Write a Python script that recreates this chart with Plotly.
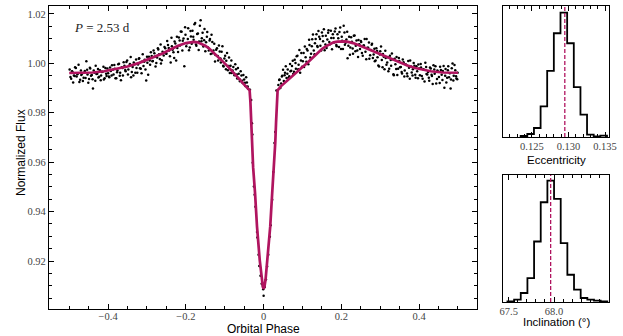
import plotly.graph_objects as go

# ---- light curve data (phase-folded), two interleaved observing sets ----
phase_a = [
    -0.499, -0.495, -0.492, -0.488, -0.485, -0.481, -0.478, -0.474, -0.470, -0.467,
    -0.463, -0.460, -0.456, -0.453, -0.449, -0.446, -0.442, -0.439, -0.435, -0.432,
    -0.428, -0.425, -0.421, -0.418, -0.414, -0.411, -0.407, -0.404, -0.400, -0.397,
    -0.393, -0.390, -0.386, -0.383, -0.379, -0.376, -0.372, -0.369, -0.365, -0.362,
    -0.358, -0.355, -0.351, -0.348, -0.344, -0.341, -0.337, -0.334, -0.330, -0.327,
    -0.323, -0.320, -0.316, -0.313, -0.309, -0.306, -0.302, -0.299, -0.295, -0.292,
    -0.288, -0.285, -0.281, -0.278, -0.274, -0.271, -0.267, -0.264, -0.260, -0.257,
    -0.253, -0.250, -0.246, -0.243, -0.239, -0.236, -0.232, -0.229, -0.225, -0.222,
    -0.218, -0.215, -0.211, -0.208, -0.204, -0.201, -0.197, -0.194, -0.190, -0.187,
    -0.183, -0.180, -0.176, -0.173, -0.169, -0.166, -0.162, -0.159, -0.155, -0.152,
    -0.148, -0.145, -0.141, -0.138, -0.134, -0.131, -0.127, -0.124, -0.120, -0.117,
    -0.113, -0.110, -0.106, -0.103, -0.099, -0.096, -0.092, -0.089, -0.085, -0.082,
    -0.078, -0.075, -0.071, -0.068, -0.064, -0.061, -0.057, -0.054, -0.050, -0.047,
    -0.043, -0.040,
    -0.035, -0.032, -0.030, -0.029, -0.028, -0.025, -0.023, -0.021, -0.017, -0.016,
    -0.013, -0.011, -0.008, -0.005, -0.002, -0.001, 0.000, 0.003, 0.006, 0.009,
    0.012, 0.016, 0.018, 0.022, 0.025, 0.028, 0.030, 0.033,
    0.038, 0.041, 0.045, 0.048, 0.052, 0.055, 0.059, 0.062, 0.066, 0.069,
    0.073, 0.076, 0.080, 0.083, 0.087, 0.090, 0.094, 0.097, 0.101, 0.104,
    0.108, 0.111, 0.115, 0.118, 0.122, 0.125, 0.129, 0.132, 0.136, 0.139,
    0.143, 0.146, 0.150, 0.153, 0.157, 0.160, 0.164, 0.167, 0.171, 0.174,
    0.178, 0.181, 0.185, 0.188, 0.192, 0.195, 0.199, 0.202, 0.206, 0.209,
    0.213, 0.216, 0.220, 0.223, 0.227, 0.230, 0.234, 0.237, 0.241, 0.244,
    0.248, 0.251, 0.255, 0.258, 0.262, 0.265, 0.269, 0.272, 0.276, 0.279,
    0.283, 0.286, 0.290, 0.293, 0.297, 0.300, 0.304, 0.307, 0.311, 0.314,
    0.318, 0.321, 0.325, 0.328, 0.332, 0.335, 0.339, 0.342, 0.346, 0.349,
    0.353, 0.356, 0.360, 0.363, 0.367, 0.370, 0.374, 0.377, 0.381, 0.384,
    0.388, 0.391, 0.395, 0.398, 0.402, 0.405, 0.409, 0.412, 0.416, 0.419,
    0.423, 0.426, 0.430, 0.433, 0.437, 0.440, 0.444, 0.447, 0.451, 0.454,
    0.458, 0.461, 0.465, 0.468, 0.472, 0.475, 0.479, 0.482, 0.486, 0.489,
    0.493, 0.496, 0.499,
]
flux_a = [
    0.9975, 0.9938, 0.9966, 0.9951, 0.9984, 0.9947, 0.9960, 0.9925, 0.9971, 0.9958,
    0.9942, 0.9969, 1.0008, 0.9955, 0.9937, 0.9979, 0.9953, 0.9898, 0.9962, 0.9990,
    0.9958, 0.9943, 0.9972, 0.9951, 0.9966, 0.9935, 0.9981, 0.9949, 0.9960, 0.9944,
    0.9969, 0.9992, 0.9955, 0.9978, 0.9940, 0.9971, 0.9998, 0.9962, 0.9984, 0.9951,
    0.9990, 0.9968, 1.0012, 0.9975, 0.9997, 0.9944, 0.9985, 1.0003, 0.9962, 0.9981,
    0.9995, 1.0021, 0.9978, 1.0006, 0.9989, 1.0015, 0.9931, 1.0002, 1.0027, 0.9994,
    1.0030, 1.0009, 1.0041, 0.9987, 1.0024, 1.0056, 1.0018, 0.9999, 1.0047, 1.0032,
    1.0061, 1.0039, 1.0074, 1.0052, 1.0003, 1.0069, 1.0045, 1.0088, 1.0011, 1.0062,
    1.0105, 1.0072, 1.0128, 1.0091, 0.9988, 1.0116, 1.0081, 1.0142, 1.0064, 1.0109,
    1.0132, 1.0095, 1.0163, 1.0071, 1.0121, 1.0088, 1.0174, 1.0102, 1.0068, 1.0139,
    1.0085, 1.0127, 1.0052, 1.0098, 1.0116, 1.0041, 1.0079, 1.0034, 1.0061, 1.0012,
    1.0048, 1.0003, 1.0069, 0.9987, 1.0031, 1.0010, 0.9972, 1.0024, 0.9990, 0.9961,
    0.9985, 0.9952, 0.9976, 0.9939, 0.9958, 0.9928, 0.9951, 0.9920, 0.9935, 0.9908,
    0.9922, 0.9897,
    0.9893, 0.9852, 0.9758, 0.9712, 0.9598, 0.9502, 0.9468, 0.9420, 0.9318, 0.9295,
    0.9225, 0.9180, 0.9140, 0.9108, 0.9100, 0.9086, 0.9060, 0.9095, 0.9125, 0.9178,
    0.9225, 0.9298, 0.9345, 0.9448, 0.9560, 0.9678, 0.9722, 0.9890,
    0.9912, 0.9935, 0.9918, 0.9950, 0.9929, 0.9962, 0.9941, 0.9975, 0.9948, 0.9968,
    0.9989, 0.9957, 1.0015, 0.9978, 1.0031, 0.9994, 0.9962, 1.0042, 1.0008, 0.9985,
    1.0025, 1.0058, 0.9996, 1.0074, 1.0039, 1.0097, 1.0052, 1.0081, 1.0118, 1.0066,
    1.0108, 1.0071, 1.0125, 1.0089, 1.0053, 1.0112, 1.0096, 1.0134, 1.0077, 1.0103,
    1.0118, 1.0084, 1.0141, 1.0069, 1.0102, 1.0127, 1.0058, 1.0091, 1.0152, 1.0075,
    1.0096, 1.0021, 1.0108, 1.0064, 1.0087, 1.0039, 1.0113, 1.0071, 1.0052, 1.0094,
    1.0058, 1.0086, 1.0031, 1.0072, 1.0047, 1.0098, 1.0063, 1.0019, 1.0054, 1.0079,
    1.0036, 1.0008, 1.0061, 1.0025, 0.9987, 1.0049, 1.0014, 1.0038, 0.9976, 1.0022,
    1.0003, 0.9968, 1.0031, 0.9990, 1.0017, 0.9952, 0.9996, 1.0026, 0.9978, 1.0009,
    0.9985, 0.9959, 1.0004, 0.9971, 0.9993, 0.9948, 0.9982, 1.0011, 0.9963, 0.9976,
    0.9990, 0.9942, 0.9968, 0.9995, 0.9952, 0.9983, 0.9938, 0.9974, 1.0002, 0.9957,
    0.9965, 0.9930, 0.9979, 0.9949, 0.9992, 0.9958, 0.9918, 0.9971, 0.9945, 0.9986,
    0.9954, 0.9969, 0.9901, 0.9977, 0.9942, 0.9988, 0.9960, 0.9935, 0.9999, 0.9950,
    0.9972, 0.9939, 0.9962,
]

phase_b = [
    -0.497, -0.493, -0.490, -0.486, -0.483, -0.479, -0.476, -0.472, -0.469, -0.465,
    -0.461, -0.458, -0.454, -0.451, -0.447, -0.444, -0.440, -0.437, -0.433, -0.430,
    -0.426, -0.423, -0.419, -0.416, -0.412, -0.409, -0.405, -0.402, -0.398, -0.395,
    -0.391, -0.388, -0.384, -0.381, -0.377, -0.374, -0.370, -0.367, -0.363, -0.360,
    -0.356, -0.353, -0.349, -0.346, -0.342, -0.339, -0.335, -0.332, -0.328, -0.325,
    -0.321, -0.318, -0.314, -0.311, -0.307, -0.304, -0.300, -0.297, -0.293, -0.290,
    -0.286, -0.283, -0.279, -0.276, -0.272, -0.269, -0.265, -0.262, -0.258, -0.255,
    -0.251, -0.248, -0.244, -0.241, -0.237, -0.234, -0.230, -0.227, -0.223, -0.220,
    -0.216, -0.213, -0.209, -0.206, -0.202, -0.199, -0.195, -0.192, -0.188, -0.185,
    -0.181, -0.178, -0.174, -0.171, -0.167, -0.164, -0.160, -0.157, -0.153, -0.150,
    -0.146, -0.143, -0.139, -0.136, -0.132, -0.129, -0.125, -0.122, -0.118, -0.115,
    -0.111, -0.108, -0.104, -0.101, -0.097, -0.094, -0.090, -0.087, -0.083, -0.080,
    -0.076, -0.073, -0.069, -0.066, -0.062, -0.059, -0.055, -0.052, -0.048, -0.045,
    -0.041,
    0.040, 0.043, 0.047, 0.050, 0.054, 0.057, 0.061, 0.064, 0.068, 0.071,
    0.075, 0.078, 0.082, 0.085, 0.089, 0.092, 0.096, 0.099, 0.103, 0.106,
    0.110, 0.113, 0.117, 0.120, 0.124, 0.127, 0.131, 0.134, 0.138, 0.141,
    0.145, 0.148, 0.152, 0.155, 0.159, 0.162, 0.166, 0.169, 0.173, 0.176,
    0.180, 0.183, 0.187, 0.190, 0.194, 0.197, 0.201, 0.204, 0.208, 0.211,
    0.215, 0.218, 0.222, 0.225, 0.229, 0.232, 0.236, 0.239, 0.243, 0.246,
    0.250, 0.253, 0.257, 0.260, 0.264, 0.267, 0.271, 0.274, 0.278, 0.281,
    0.285, 0.288, 0.292, 0.295, 0.299, 0.302, 0.306, 0.309, 0.313, 0.316,
    0.320, 0.323, 0.327, 0.330, 0.334, 0.337, 0.341, 0.344, 0.348, 0.351,
    0.355, 0.358, 0.362, 0.365, 0.369, 0.372, 0.376, 0.379, 0.383, 0.386,
    0.390, 0.393, 0.397, 0.400, 0.404, 0.407, 0.411, 0.414, 0.418, 0.421,
    0.425, 0.428, 0.432, 0.435, 0.439, 0.442, 0.446, 0.449, 0.453, 0.456,
    0.460, 0.463, 0.467, 0.470, 0.474, 0.477, 0.481, 0.484, 0.488, 0.491,
    0.495, 0.498,
]
flux_b = [
    0.9945, 0.9968, 0.9922, 0.9949, 0.9981, 0.9956, 0.9994, 0.9934, 0.9953, 0.9929,
    0.9963, 0.9941, 0.9974, 0.9921, 0.9982, 0.9950, 0.9936, 0.9971, 0.9930, 0.9957,
    0.9977, 0.9946, 0.9932, 0.9965, 0.9986, 0.9940, 0.9958, 0.9979, 0.9947, 0.9983,
    0.9951, 0.9974, 0.9993, 0.9940, 0.9964, 0.9996, 0.9950, 0.9932, 0.9981, 1.0004,
    0.9973, 1.0005, 0.9955, 0.9990, 1.0026, 0.9965, 0.9951, 0.9996, 1.0016, 0.9962,
    1.0019, 0.9980, 0.9960, 1.0037, 1.0006, 0.9975, 1.0027, 0.9954, 1.0012, 1.0045,
    1.0008, 1.0052, 1.0028, 1.0001, 1.0061, 1.0037, 1.0076, 1.0013, 1.0042, 1.0066,
    1.0040, 1.0090, 1.0062, 1.0029, 1.0104, 1.0055, 1.0022, 1.0080, 1.0108, 1.0046,
    1.0092, 1.0129, 1.0052, 1.0101, 1.0146, 1.0069, 1.0098, 1.0053, 1.0131, 1.0079,
    1.0108, 1.0158, 1.0076, 1.0119, 1.0054, 1.0152, 1.0089, 1.0124, 1.0093, 1.0049,
    1.0108, 1.0064, 1.0092, 1.0038, 1.0086, 1.0052, 1.0007, 1.0055, 1.0030, 1.0072,
    1.0020, 1.0047, 0.9990, 1.0020, 0.9976, 1.0042, 0.9989, 0.9961, 1.0012, 0.9971,
    0.9960, 0.9996, 0.9955, 0.9981, 0.9936, 0.9968, 0.9930, 0.9953, 0.9921, 0.9944,
    0.9906,
    0.9933, 0.9900, 0.9947, 0.9974, 0.9952, 0.9988, 0.9958, 0.9942, 0.9997, 0.9970,
    1.0010, 0.9966, 1.0001, 1.0029, 0.9976, 1.0054, 1.0012, 0.9986, 1.0042, 1.0068,
    1.0006, 1.0052, 1.0095, 1.0024, 1.0069, 1.0117, 1.0037, 1.0099, 1.0070, 1.0131,
    1.0098, 1.0052, 1.0111, 1.0138, 1.0076, 1.0062, 1.0124, 1.0086, 1.0132, 1.0057,
    1.0103, 1.0129, 1.0074, 1.0118, 1.0066, 1.0145, 1.0108, 1.0058, 1.0125, 1.0083,
    1.0128, 1.0071, 1.0035, 1.0106, 1.0060, 1.0112, 1.0049, 1.0092, 1.0026, 1.0077,
    1.0090, 1.0042, 1.0072, 1.0098, 1.0017, 1.0063, 1.0084, 1.0033, 1.0075, 1.0022,
    1.0059, 1.0012, 1.0050, 0.9991, 1.0036, 1.0068, 0.9984, 1.0027, 1.0051, 0.9994,
    1.0025, 0.9978, 1.0014, 1.0040, 0.9956, 1.0019, 0.9977, 0.9953, 1.0022, 0.9984,
    0.9965, 1.0016, 0.9947, 0.9996, 0.9959, 1.0009, 0.9938, 0.9987, 0.9951, 1.0001,
    0.9954, 0.9988, 0.9940, 0.9979, 0.9997, 0.9949, 0.9976, 0.9927, 0.9985, 0.9955,
    0.9942, 0.9983, 0.9954, 0.9916, 0.9975, 0.9988, 0.9937, 0.9966, 0.9920, 0.9973,
    0.9933, 0.9989, 0.9950, 0.9922, 0.9972, 0.9944, 0.9898, 0.9980, 0.9931, 0.9993,
    0.9948, 0.9936,
]

# ---- best-fit model ----
model_phase = [
    -0.50, -0.47, -0.44, -0.41, -0.38, -0.35, -0.32, -0.29, -0.26, -0.24,
    -0.22, -0.20, -0.19, -0.18, -0.17, -0.16, -0.15, -0.14, -0.13, -0.12,
    -0.11, -0.10, -0.09, -0.08, -0.07, -0.06, -0.05, -0.042, -0.036, -0.034,
    -0.032, -0.030, -0.027, -0.022, -0.017, -0.010, -0.005, -0.002, 0.0, 0.002,
    0.005, 0.010, 0.017, 0.022, 0.027, 0.030, 0.032, 0.034, 0.036, 0.045,
    0.06, 0.08, 0.10, 0.11, 0.12, 0.13, 0.14, 0.15, 0.16, 0.17,
    0.18, 0.19, 0.20, 0.21, 0.22, 0.23, 0.25, 0.27, 0.29, 0.31,
    0.33, 0.35, 0.37, 0.39, 0.41, 0.43, 0.46, 0.50,
]
model_flux = [
    0.9961, 0.9961, 0.9963, 0.9968, 0.9976, 0.9987, 1.0002, 1.0020, 1.0040, 1.0056,
    1.0071, 1.0082, 1.0086, 1.0087, 1.0085, 1.0079, 1.0071, 1.0060, 1.0046, 1.0030,
    1.0015, 1.0000, 0.9984, 0.9968, 0.9950, 0.9932, 0.9914, 0.9900, 0.9891, 0.9845,
    0.9760, 0.9680, 0.9580, 0.9474, 0.9339, 0.9204, 0.9125, 0.9095, 0.9088, 0.9095,
    0.9125, 0.9204, 0.9339, 0.9474, 0.9580, 0.9680, 0.9760, 0.9845, 0.9891, 0.9908,
    0.9930, 0.9958, 0.9985, 0.9998, 1.0014, 1.0030, 1.0045, 1.0058, 1.0069, 1.0078,
    1.0085, 1.0088, 1.0090, 1.0089, 1.0086, 1.0082, 1.0070, 1.0057, 1.0043, 1.0030,
    1.0016, 1.0003, 0.9991, 0.9981, 0.9973, 0.9968, 0.9963, 0.9962,
]

# ---- posterior histograms ----
ecc_edges = [0.12346, 0.12437, 0.12528, 0.12619, 0.12709, 0.12800, 0.12891,
             0.12982, 0.13073, 0.13164, 0.13254, 0.13345, 0.13436, 0.13527]
ecc_counts = [3, 9, 27, 92, 199, 312, 374, 282, 150, 67, 7, 2, 4]
ecc_best = 0.1295

inc_edges = [67.486, 67.5595, 67.633, 67.7065, 67.780, 67.8535, 67.927, 68.0005,
             68.074, 68.1475, 68.221, 68.2945, 68.368, 68.4415, 68.515, 68.5885]
inc_counts = [2, 7, 27, 72, 182, 300, 365, 310, 177, 82, 37, 12, 7, 4, 2]
inc_best = 67.963

LINE = '#b0145f'
SERIF = 'Liberation Serif'
SANS = 'Liberation Sans'


def step_xy(edges, counts):
    xs = [edges[0]] + list(edges)
    ys = [0] + list(counts) + [0]
    return xs, ys


fig = go.Figure()

fig.add_trace(go.Scatter(x=phase_a + phase_b, y=flux_a + flux_b, mode='markers',
                         marker=dict(color='black', size=2.5), xaxis='x', yaxis='y'))
fig.add_trace(go.Scatter(x=model_phase, y=model_flux, mode='lines',
                         line=dict(color=LINE, width=2.7), xaxis='x', yaxis='y'))

ex, ey = step_xy(ecc_edges, ecc_counts)
fig.add_trace(go.Scatter(x=ex, y=ey, mode='lines', line=dict(color='black', width=1.8, shape='hv'),
                         xaxis='x2', yaxis='y2'))
fig.add_trace(go.Scatter(x=[ecc_best, ecc_best], y=[0, 394], mode='lines',
                         line=dict(color=LINE, width=1.3, dash='4px,2px'), xaxis='x2', yaxis='y2'))

ix, iy = step_xy(inc_edges, inc_counts)
fig.add_trace(go.Scatter(x=ix, y=iy, mode='lines', line=dict(color='black', width=1.8, shape='hv'),
                         xaxis='x3', yaxis='y3'))
fig.add_trace(go.Scatter(x=[inc_best, inc_best], y=[0, 382], mode='lines',
                         line=dict(color=LINE, width=1.3, dash='4px,2px'), xaxis='x3', yaxis='y3'))

frame = dict(showline=True, linecolor='black', linewidth=1.3, mirror='allticks',
             ticks='inside', ticklen=5, tickwidth=1, tickcolor='black',
             showgrid=False, zeroline=False, automargin=False,
             tickfont=dict(family=SERIF, size=10.5, color='#444'))
title_font = dict(family=SANS, size=12, color='black')

fig.update_layout(
    width=623, height=336,
    margin=dict(l=0, r=0, t=0, b=0),
    paper_bgcolor='white', plot_bgcolor='white',
    showlegend=False,
    xaxis=dict(frame, domain=[0.0787, 0.7657], range=[-0.552, 0.549], dtick=0.2, tick0=0,
               ticklabelstandoff=-3,
               minor=dict(ticks='inside', ticklen=3, dtick=0.05, tickcolor='black')),
    yaxis=dict(frame, domain=[0.0804, 0.9821], range=[0.9006, 1.0232], dtick=0.02, tick0=0,
               tickformat='.2f',
               minor=dict(ticks='inside', ticklen=3, dtick=0.005, tickcolor='black')),
    xaxis2=dict(frame, domain=[0.8074, 0.9775], range=[0.12105, 0.13554], anchor='y2',
                tickvals=[0.125, 0.130, 0.135], ticktext=['0.125', '0.130', '0.135'],
                ticklabelstandoff=-1,
                minor=dict(ticks='inside', ticklen=3, dtick=0.001, tickcolor='black')),
    yaxis2=dict(frame, domain=[0.5923, 0.9821], range=[0, 394], anchor='x2',
                ticks='', showticklabels=False),
    xaxis3=dict(frame, domain=[0.8074, 0.9775], range=[67.437, 68.607], anchor='y3',
                tickvals=[67.5, 68.0], ticktext=['67.5', '68.0'],
                ticklabelstandoff=-1,
                minor=dict(ticks='inside', ticklen=3, dtick=0.1, tickcolor='black')),
    yaxis3=dict(frame, domain=[0.1012, 0.4792], range=[0, 382], anchor='x3',
                ticks='', showticklabels=False),
    annotations=[
        dict(x=-0.493, y=1.0145, xref='x', yref='y', xanchor='left', yanchor='middle',
             text='<i>P</i> = 2.53 d', showarrow=False,
             font=dict(family=SERIF, size=13, color='#222')),
        dict(x=0.4222, y=0.0208, xref='paper', yref='paper', xanchor='center', yanchor='middle',
             text='Orbital Phase', showarrow=False, font=title_font),
        dict(x=0.0337, y=0.5476, xref='paper', yref='paper', xanchor='center', yanchor='middle',
             text='Normalized Flux', textangle=-90, showarrow=False, font=title_font),
        dict(x=0.8925, y=0.5238, xref='paper', yref='paper', xanchor='center', yanchor='middle',
             text='Eccentricity', showarrow=False, font=dict(title_font, size=11.5)),
        dict(x=0.8925, y=0.0417, xref='paper', yref='paper', xanchor='center', yanchor='middle',
             text='Inclination (°)', showarrow=False, font=dict(title_font, size=11.5)),
    ],
)

# the page body has a default 8px margin; drop it so the figure sits at the window origin
fig.write_html("out.html", config={'displayModeBar': False},
               post_script="document.body.style.margin='0';")
